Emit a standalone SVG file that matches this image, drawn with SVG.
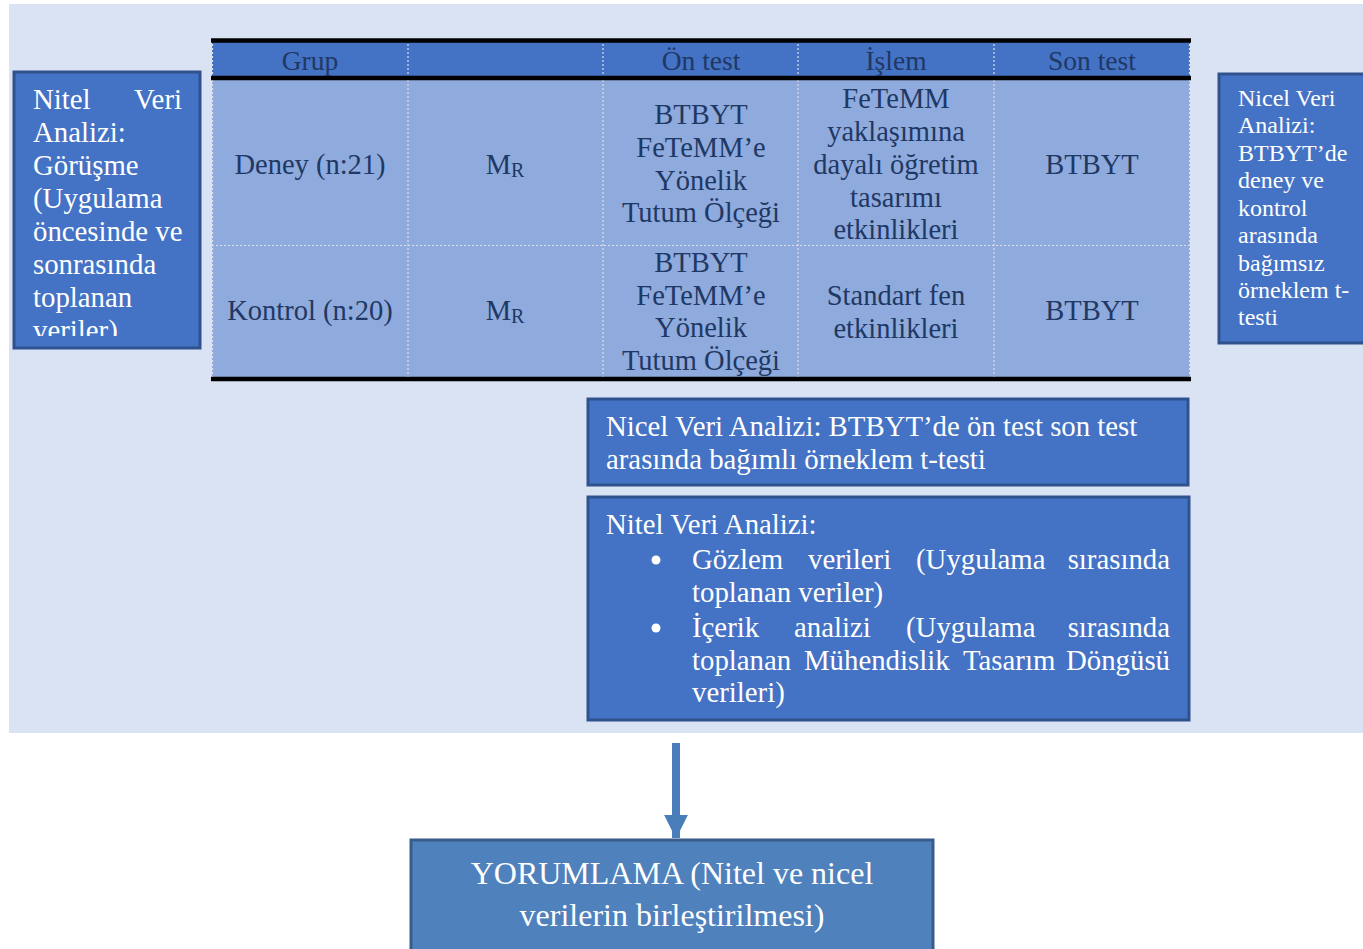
<svg xmlns="http://www.w3.org/2000/svg" width="1363" height="949" viewBox="0 0 1363 949">
<defs>
<style>
.t{font-family:"Liberation Serif","Times New Roman",serif;font-size:28.5px;fill:#1F3864}
.h{font-family:"Liberation Serif","Times New Roman",serif;font-size:27.5px;fill:#1F3864;text-anchor:middle}
.c{text-anchor:middle}
.w{font-family:"Liberation Serif","Times New Roman",serif;font-size:28.8px;fill:#FFFFFF}
.ws{font-family:"Liberation Serif","Times New Roman",serif;font-size:24px;fill:#FFFFFF}
.box{fill:#4472C4;stroke:#2F528F;stroke-width:3}
.dot{stroke:#E0E0E0;stroke-width:1.2;stroke-dasharray:2 2;fill:none}
.rule{stroke:#000000;stroke-width:4.5}
</style>
<clipPath id="clipL"><rect x="15" y="73" width="184" height="263"/></clipPath>
<marker id="ah" markerWidth="3" markerHeight="3" refX="2.9" refY="1.5" orient="auto" markerUnits="strokeWidth">
<path d="M0,0 L3,1.5 L0,3 Z" fill="#4A7EBB"/>
</marker>
</defs>
<rect x="0" y="0" width="1363" height="949" fill="#FFFFFF"/>
<rect x="9" y="4" width="1354" height="729" fill="#DAE3F3"/>

<g id="table">
<rect x="212" y="40" width="978" height="38" fill="#4472C4"/>
<rect x="212" y="78" width="978" height="301" fill="#8FAADC"/>
<line class="dot" x1="212.5" y1="40" x2="212.5" y2="379"/>
<line class="dot" x1="408" y1="40" x2="408" y2="379"/>
<line class="dot" x1="603" y1="40" x2="603" y2="379"/>
<line class="dot" x1="798" y1="40" x2="798" y2="379"/>
<line class="dot" x1="994" y1="40" x2="994" y2="379"/>
<line class="dot" x1="1189.5" y1="40" x2="1189.5" y2="379"/>
<line class="dot" x1="212" y1="245.5" x2="1190" y2="245.5"/>
<line class="rule" x1="211" y1="40.5" x2="1191" y2="40.5"/>
<line class="rule" x1="211" y1="78" x2="1191" y2="78"/>
<line class="rule" x1="211" y1="379" x2="1191" y2="379"/>
<text class="h" x="310" y="70">Grup</text>
<text class="h" x="701" y="70">Ön test</text>
<text class="h" x="896" y="70">İşlem</text>
<text class="h" x="1092" y="70">Son test</text>
<text class="t c" x="310" y="174">Deney (n:21)</text>
<text class="t c" x="310" y="320">Kontrol (n:20)</text>
<text class="t c" x="505" y="174">M<tspan font-size="20" dy="3">R</tspan></text>
<text class="t c" x="505" y="320">M<tspan font-size="20" dy="3">R</tspan></text>
<text class="t c" x="701" y="124">BTBYT</text>
<text class="t c" x="701" y="157">FeTeMM’e</text>
<text class="t c" x="701" y="190">Yönelik</text>
<text class="t c" x="701" y="222">Tutum Ölçeği</text>
<text class="t c" x="701" y="272">BTBYT</text>
<text class="t c" x="701" y="305">FeTeMM’e</text>
<text class="t c" x="701" y="337">Yönelik</text>
<text class="t c" x="701" y="370">Tutum Ölçeği</text>
<text class="t c" x="896" y="108">FeTeMM</text>
<text class="t c" x="896" y="141">yaklaşımına</text>
<text class="t c" x="896" y="174">dayalı öğretim</text>
<text class="t c" x="896" y="207">tasarımı</text>
<text class="t c" x="896" y="239">etkinlikleri</text>
<text class="t c" x="896" y="305">Standart fen</text>
<text class="t c" x="896" y="338">etkinlikleri</text>
<text class="t c" x="1092" y="174">BTBYT</text>
<text class="t c" x="1092" y="320">BTBYT</text>
</g>

<g id="nitel-left">
<rect class="box" x="14" y="72" width="186" height="276"/>
<g clip-path="url(#clipL)">
<text class="w" x="33" y="109">Nitel</text>
<text class="w" x="182" y="109" text-anchor="end">Veri</text>
<text class="w" x="33" y="142">Analizi:</text>
<text class="w" x="33" y="175">Görüşme</text>
<text class="w" x="33" y="208">(Uygulama</text>
<text class="w" x="33" y="241">öncesinde ve</text>
<text class="w" x="33" y="274">sonrasında</text>
<text class="w" x="33" y="307">toplanan</text>
<text class="w" x="33" y="340">veriler)</text>
</g>
</g>

<g id="nicel-right">
<rect class="box" x="1219" y="74" width="160" height="269"/>
<text class="ws" x="1238" y="106">Nicel Veri</text>
<text class="ws" x="1238" y="133">Analizi:</text>
<text class="ws" x="1238" y="161">BTBYT’de</text>
<text class="ws" x="1238" y="188">deney ve</text>
<text class="ws" x="1238" y="216">kontrol</text>
<text class="ws" x="1238" y="243">arasında</text>
<text class="ws" x="1238" y="271">bağımsız</text>
<text class="ws" x="1238" y="298">örneklem t-</text>
<text class="ws" x="1238" y="325">testi</text>
</g>

<g id="nicel-bottom">
<rect class="box" x="588" y="399" width="600" height="86"/>
<text class="w" x="606" y="436">Nicel Veri Analizi: BTBYT’de ön test son test</text>
<text class="w" x="606" y="469">arasında bağımlı örneklem t-testi</text>
</g>

<g id="nitel-bottom">
<rect class="box" x="588" y="497" width="601" height="223"/>
<text class="w" x="606" y="534">Nitel Veri Analizi:</text>
<circle cx="656" cy="560" r="4.5" fill="#FFFFFF"/>
<circle cx="656" cy="628" r="4.5" fill="#FFFFFF"/>
<text class="w" x="692" y="569">Gözlem</text>
<text class="w" x="808" y="569">verileri</text>
<text class="w" x="916" y="569">(Uygulama</text>
<text class="w" x="1170" y="569" text-anchor="end">sırasında</text>
<text class="w" x="692" y="602">toplanan veriler)</text>
<text class="w" x="692" y="637">İçerik</text>
<text class="w" x="794" y="637">analizi</text>
<text class="w" x="906" y="637">(Uygulama</text>
<text class="w" x="1170" y="637" text-anchor="end">sırasında</text>
<text class="w" x="692" y="670">toplanan</text>
<text class="w" x="804" y="670">Mühendislik</text>
<text class="w" x="963" y="670">Tasarım</text>
<text class="w" x="1170" y="670" text-anchor="end">Döngüsü</text>
<text class="w" x="692" y="702">verileri)</text>
</g>

<g id="connectors">
<line x1="676" y1="743" x2="676" y2="838" stroke="#4A7EBB" stroke-width="8" marker-end="url(#ah)"/>
</g>

<g id="yorumlama">
<rect x="411" y="840" width="522" height="125" fill="#4F81BD" stroke="#385D8A" stroke-width="3"/>
<text x="672" y="884" font-family="Liberation Serif, Times New Roman, serif" font-size="32" fill="#FFFFFF" text-anchor="middle">YORUMLAMA (Nitel ve nicel</text>
<text x="672" y="926" font-family="Liberation Serif, Times New Roman, serif" font-size="32" fill="#FFFFFF" text-anchor="middle">verilerin birleştirilmesi)</text>
</g>
</svg>
